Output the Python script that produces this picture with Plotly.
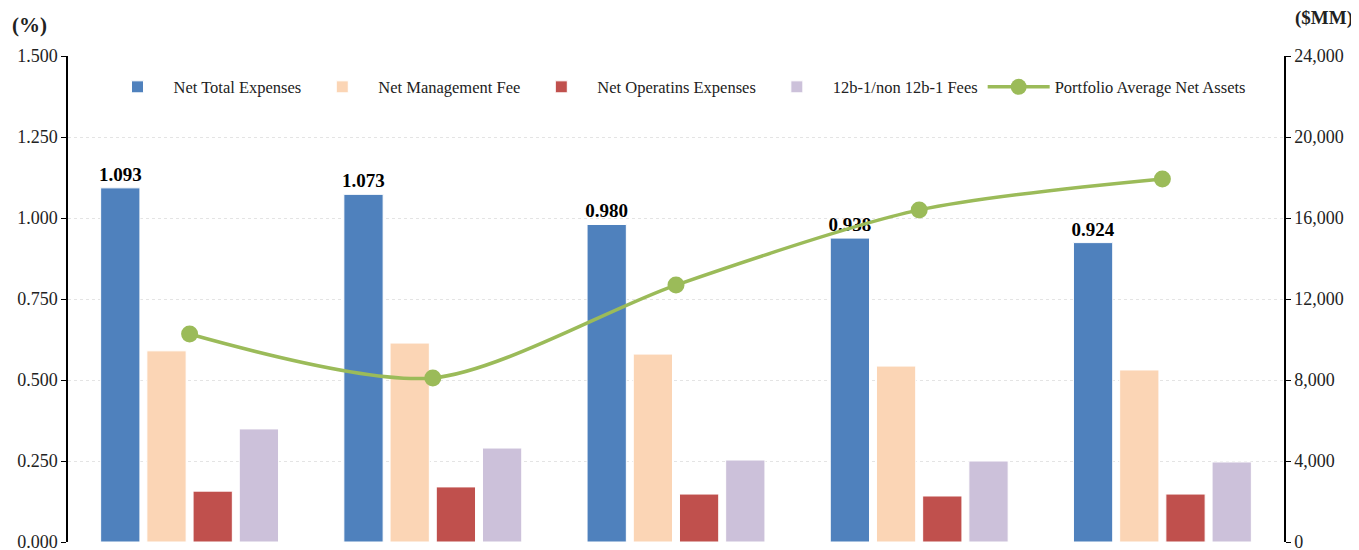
import plotly.graph_objects as go

categories = ["P1", "P2", "P3", "P4", "P5"]
net_total = [1.093, 1.073, 0.980, 0.938, 0.924]
net_mgmt = [0.590, 0.614, 0.580, 0.543, 0.531]
net_oper = [0.157, 0.170, 0.148, 0.142, 0.148]
fees_12b1 = [0.349, 0.290, 0.253, 0.250, 0.247]
avg_assets = [10270, 8100, 12690, 16400, 17930]

FONT = "Palatino Linotype, Book Antiqua, Palatino, Liberation Serif, serif"

fig = go.Figure()
bar_line = dict(color="white", width=1)
fig.add_trace(go.Bar(x=categories, y=net_total, name="Net Total Expenses",
                     marker=dict(color="#4F81BD", line=bar_line),
                     text=[f"{v:.3f}" for v in net_total], textposition="outside",
                     constraintext="none",
                     textfont=dict(size=19, color="black", family=FONT),
                     texttemplate="<b>%{text}</b>", cliponaxis=False))
fig.add_trace(go.Bar(x=categories, y=net_mgmt, name="Net Management Fee",
                     marker=dict(color="#FBD5B5", line=bar_line)))
fig.add_trace(go.Bar(x=categories, y=net_oper, name="Net Operatins Expenses",
                     marker=dict(color="#C0504D", line=bar_line)))
fig.add_trace(go.Bar(x=categories, y=fees_12b1, name="12b-1/non 12b-1 Fees",
                     marker=dict(color="#CCC1DA", line=bar_line)))
fig.add_trace(go.Scatter(x=categories, y=avg_assets, name="Portfolio Average Net Assets",
                         yaxis="y2", mode="lines+markers",
                         line=dict(color="#9BBB59", width=3.5, shape="spline", smoothing=0.8),
                         marker=dict(color="#9BBB59", size=17)))

# page body has an 8px default margin, so the figure is sized/offset to compensate
fig.update_layout(
    width=1351, height=542,
    margin=dict(l=60, r=75, t=48, b=8),
    paper_bgcolor="white", plot_bgcolor="white",
    font=dict(family=FONT, size=18, color="#222"),
    barmode="group", bargap=0.24, bargroupgap=0.15,
    showlegend=True,
    legend=dict(orientation="h", x=0.5, xanchor="center", y=0.936, yanchor="middle",
                font=dict(size=16.5, family=FONT, color="#222"), bgcolor="rgba(0,0,0,0)",
                itemwidth=62, tracegroupgap=0),
    xaxis=dict(showticklabels=False, showgrid=False, zeroline=False, ticks="",
               showline=False),
    yaxis=dict(range=[0, 1.5], dtick=0.25, tickformat=".3f", showline=True,
               linecolor="black", linewidth=1.5, ticks="outside", ticklen=5,
               tickcolor="black", gridcolor="#e4e4e4", griddash="dot", zeroline=False,
               ticklabeloverflow="allow", automargin=False,
               tickfont=dict(size=18, family=FONT, color="#222")),
    yaxis2=dict(range=[0, 24000], dtick=4000, tickformat=",d", overlaying="y",
                side="right", showline=True, linecolor="black", linewidth=1.5,
                ticks="outside", ticklen=5, tickcolor="black", showgrid=False,
                zeroline=False, ticklabeloverflow="allow", automargin=False,
                tickfont=dict(size=18, family=FONT, color="#222")),
    annotations=[
        dict(text="<b>(%)</b>", xref="paper", yref="paper", x=-0.0477, y=1.0,
             yshift=31, xanchor="left", yanchor="middle", showarrow=False,
             font=dict(size=21, family=FONT, color="#222")),
        dict(text="<b>($MM)</b>", xref="paper", yref="paper", x=1.0, xshift=71,
             y=1.0, yshift=38, xanchor="right", yanchor="middle", showarrow=False,
             font=dict(size=19, family=FONT, color="#222")),
    ],
)

fig.write_html("out.html")
